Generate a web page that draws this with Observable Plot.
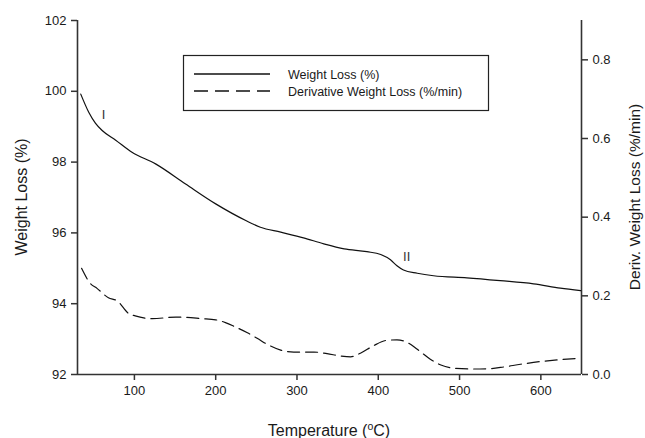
<!DOCTYPE html>
<html>
<head>
<meta charset="utf-8">
<script src="https://cdn.jsdelivr.net/npm/d3@7"></script>
<script src="https://cdn.jsdelivr.net/npm/@observablehq/plot@0.6"></script>
<style>
  html, body { margin: 0; padding: 0; background: #fff; }
</style>
</head>
<body>
<div id="chart"></div>
<script>
// Weight loss (%) vs temperature (°C)
const wlTemp  = [34, 44, 52, 60, 77, 97, 126, 163, 200, 237, 255, 280, 308, 333, 358, 386, 403, 415, 423, 431, 448, 468, 509, 550, 591, 624, 649];
const wlValue = [99.92, 99.40, 99.10, 98.90, 98.62, 98.28, 97.95, 97.38, 96.82, 96.35, 96.16, 96.02, 95.86, 95.69, 95.55, 95.47, 95.39, 95.24, 95.07, 94.95, 94.86, 94.79, 94.73, 94.65, 94.56, 94.44, 94.37];

// Derivative weight loss (%/min) vs temperature (°C)
const dwTemp  = [35, 46, 54, 68, 79, 93, 101, 122, 151, 183, 200, 212, 224, 239, 251, 265, 280, 296, 321, 337, 354, 366, 378, 394, 411, 423, 436, 448, 464, 477, 493, 518, 538, 554, 575, 600, 620, 645];
const dwValue = [0.270, 0.231, 0.219, 0.195, 0.187, 0.155, 0.149, 0.142, 0.146, 0.142, 0.139, 0.132, 0.121, 0.106, 0.092, 0.075, 0.062, 0.057, 0.057, 0.053, 0.047, 0.045, 0.054, 0.073, 0.087, 0.088, 0.081, 0.064, 0.039, 0.024, 0.016, 0.014, 0.015, 0.019, 0.026, 0.033, 0.037, 0.041];

// Axis ticks
const xTicks = [100, 200, 300, 400, 500, 600];
const yLeftTicks = [92, 94, 96, 98, 100, 102];
const yRightTicks = [0.0, 0.2, 0.4, 0.6, 0.8];
const yLeftDomain = [92, 102];
const yRightDomain = [0, 0.9];

// Annotations
const notes = [
  {t: 62, v: 99.33, label: "I"},
  {t: 435, v: 95.33, label: "II"}
];

// map right-axis values onto the left-axis scale
const k = (yLeftDomain[1] - yLeftDomain[0]) / (yRightDomain[1] - yRightDomain[0]);
const toLeft = d => yLeftDomain[0] + (d - yRightDomain[0]) * k;
const fromLeft = v => yRightDomain[0] + (v - yLeftDomain[0]) / k;

const wl = wlTemp.map((t, i) => ({t, v: wlValue[i]}));
const dw = dwTemp.map((t, i) => ({t, v: toLeft(dwValue[i])}));

const W = 645, H = 438;
const mL = 77, mR = 64, mT = 20, mB = 64;

const chart = Plot.plot({
  width: W,
  height: H,
  marginLeft: mL,
  marginRight: mR,
  marginTop: mT,
  marginBottom: mB,
  style: {fontFamily: "Liberation Sans, Arial, sans-serif", fontSize: "13px", color: "#1a1a1a", background: "#fff", overflow: "visible"},
  x: {domain: [30, 650], label: null},
  y: {domain: yLeftDomain, label: null},
  marks: [
    Plot.axisX(xTicks, {tickSize: 6, tickPadding: 5, label: null, stroke: "#333", strokeWidth: 1.5}),
    Plot.axisY(yLeftTicks, {anchor: "left", tickSize: 6, tickPadding: 5, label: null, stroke: "#333", strokeWidth: 1.5}),
    Plot.axisY(yRightTicks.map(toLeft), {anchor: "right", tickSize: 6, tickPadding: 5, label: null, stroke: "#333", strokeWidth: 1.5,
      tickFormat: v => fromLeft(v).toFixed(1)}),
    Plot.ruleX([30, 650], {stroke: "#333", strokeWidth: 1.6}),
    Plot.ruleY([92], {stroke: "#333", strokeWidth: 1.6}),
    Plot.line(wl, {x: "t", y: "v", stroke: "#111", strokeWidth: 1.2, curve: "monotone-x"}),
    Plot.line(dw, {x: "t", y: "v", stroke: "#111", strokeWidth: 1.2, curve: "monotone-x", strokeDasharray: "12,6"}),
    Plot.text(notes, {x: "t", y: "v", text: "label", fontSize: 13, fill: "#333"})
  ]
});

const svg = d3.select(chart);
const cy = (mT + (H - mB)) / 2;

svg.append("text")
  .attr("transform", `translate(21,${cy}) rotate(-90)`)
  .attr("text-anchor", "middle").attr("dy", "0.35em")
  .attr("font-size", 16).attr("fill", "#1a1a1a")
  .text("Weight Loss (%)");

svg.append("text")
  .attr("transform", `translate(635,${cy}) rotate(-90)`)
  .attr("text-anchor", "middle").attr("dy", "0.35em")
  .attr("font-size", 15.5).attr("fill", "#1a1a1a")
  .text("Deriv. Weight Loss (%/min)");

const xt = svg.append("text")
  .attr("x", 329).attr("y", 436)
  .attr("text-anchor", "middle")
  .attr("font-size", 16).attr("fill", "#1a1a1a");
xt.append("tspan").text("Temperature (");
xt.append("tspan").attr("font-size", 10.5).attr("dy", -6).text("o");
xt.append("tspan").attr("dy", 6).text("C)");

// legend
const lg = svg.append("g");
lg.append("rect").attr("x", 183.5).attr("y", 55.5).attr("width", 305).attr("height", 55)
  .attr("fill", "#fff").attr("stroke", "#222").attr("stroke-width", 1.2);
lg.append("line").attr("x1", 194).attr("x2", 270).attr("y1", 74).attr("y2", 74)
  .attr("stroke", "#111").attr("stroke-width", 1.3);
lg.append("line").attr("x1", 194).attr("x2", 270).attr("y1", 91).attr("y2", 91)
  .attr("stroke", "#111").attr("stroke-width", 1.3).attr("stroke-dasharray", "14,7");
lg.append("text").attr("x", 288).attr("y", 78.5).attr("text-anchor", "start").attr("font-size", 12.5).attr("fill", "#1a1a1a").text("Weight Loss (%)");
lg.append("text").attr("x", 288).attr("y", 95.5).attr("text-anchor", "start").attr("font-size", 12.5).attr("fill", "#1a1a1a").text("Derivative Weight Loss (%/min)");

document.getElementById("chart").appendChild(chart);
</script>
</body>
</html>
